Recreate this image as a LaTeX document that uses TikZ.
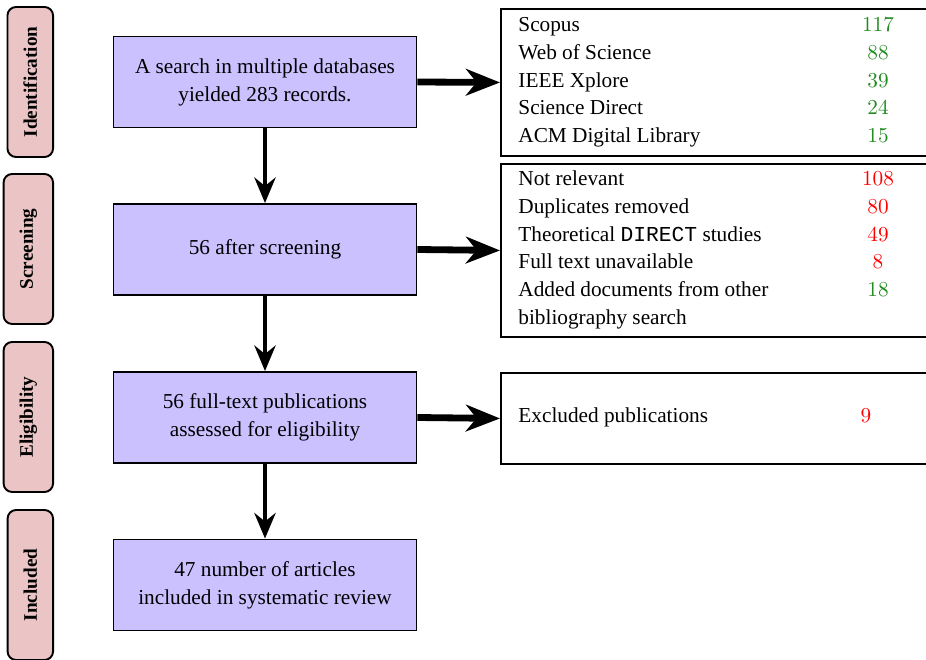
\documentclass[tikz,border=0pt]{standalone}
\usepackage[no-math]{fontspec}
\setmainfont{Liberation Serif}
\setmonofont{Liberation Mono}
\usetikzlibrary{arrows.meta}
\definecolor{boxpurple}{RGB}{204,193,255}
\definecolor{labpink}{RGB}{235,197,197}
\definecolor{numgreen}{RGB}{34,139,34}
\definecolor{numred}{RGB}{255,0,0}
\def\u{0.47pt}
\tikzset{
  txt/.style={font=\fontsize{10}{13.2}\selectfont},
  mainbox/.style={txt, draw, line width=0.9pt, fill=boxpurple, align=center,
    minimum width=303*\u, minimum height=91*\u, inner sep=0pt},
  stagelab/.style={draw, line width=0.9pt, fill=labpink, rounded corners=4pt,
    rotate=90, anchor=south, font=\fontsize{9}{11}\selectfont\bfseries,
    minimum width=150*\u, inner ysep=7.5pt, inner xsep=2pt},
  sidebox/.style={draw, line width=0.9pt, fill=white, anchor=north west,
    minimum width=450*\u, inner sep=0pt},
  rowtxt/.style={txt, anchor=base west, inner sep=0pt},
  numg/.style={txt, anchor=base, inner sep=0pt, text=numgreen},
  numr/.style={txt, anchor=base, inner sep=0pt, text=numred},
  harrow/.style={line width=3.2pt, -{Stealth[length=16pt, width=12.5pt, inset=5pt]}},
  varrow/.style={line width=1.9pt, -{Stealth[length=12pt, width=10pt, inset=4pt]}},
}
\begin{document}
\begin{tikzpicture}[x=0.47pt, y=-0.47pt]
\useasboundingbox (0,0) rectangle (926,660);

% stage labels
\node[stagelab] (l1) at (54,82) {Identification};
\node[stagelab] (l2) at (54,249) {Screening};
\node[stagelab] (l3) at (54,417) {Eligibility};
\node[stagelab] (l4) at (54,585) {Included};

% main boxes
\node[mainbox] (p1) at (265,82) {A search in multiple databases\\yielded 283 records.};
\node[mainbox] (p2) at (265,249.5) {56 after screening};
\node[mainbox] (p3) at (265,417.5) {56 full-text publications\\assessed for eligibility};
\node[mainbox] (p4) at (265,585) {47 number of articles\\included in systematic review};

% side boxes
\node[sidebox, minimum height=147*\u] (ra) at (500,8) {};
\node[sidebox, minimum height=173*\u] (rb) at (500,163) {};
\node[sidebox, minimum height=91*\u] (rc) at (500,372) {};

% box A rows
\node[rowtxt] (a1) at (518,32) {Scopus};
\node[rowtxt] (a2) at (518,60) {Web of Science};
\node[rowtxt] (a3) at (518,87.5) {IEEE Xplore};
\node[rowtxt] (a4) at (518,115) {Science Direct};
\node[rowtxt] (a5) at (518,143) {ACM Digital Library};
\node[numg] (na1) at (878,32) {$117$};
\node[numg] (na2) at (878,60) {$88$};
\node[numg] (na3) at (878,87.5) {$39$};
\node[numg] (na4) at (878,115) {$24$};
\node[numg] (na5) at (878,143) {$15$};

% box B rows
\node[rowtxt] (b1) at (518,186) {Not relevant};
\node[rowtxt] (b2) at (518,214) {Duplicates removed};
\node[rowtxt] (b3) at (518,241.5) {Theoretical \texttt{DIRECT} studies};
\node[rowtxt] (b4) at (518,269) {Full text unavailable};
\node[rowtxt] (b5) at (518,297) {Added documents from other};
\node[rowtxt] (b6) at (518,324.5) {bibliography search};
\node[numr] (nb1) at (878,186) {$108$};
\node[numr] (nb2) at (878,214) {$80$};
\node[numr] (nb3) at (878,241.5) {$49$};
\node[numr] (nb4) at (878,269) {$8$};
\node[numg] (nb5) at (878,297) {$18$};

% box C row
\node[rowtxt] (c1) at (518,423) {Excluded publications};
\node[numr] (nc1) at (866,423) {$9$};

% arrows
\draw[varrow] (p1.south) -- (p2.north);
\draw[varrow] (p2.south) -- (p3.north);
\draw[varrow] (p3.south) -- (p4.north);
\draw[harrow] (p1.east) -- (ra.west);
\draw[harrow] (p2.east) -- (rb.west);
\draw[harrow] (p3.east) -- (rc.west);
\end{tikzpicture}
\end{document}
